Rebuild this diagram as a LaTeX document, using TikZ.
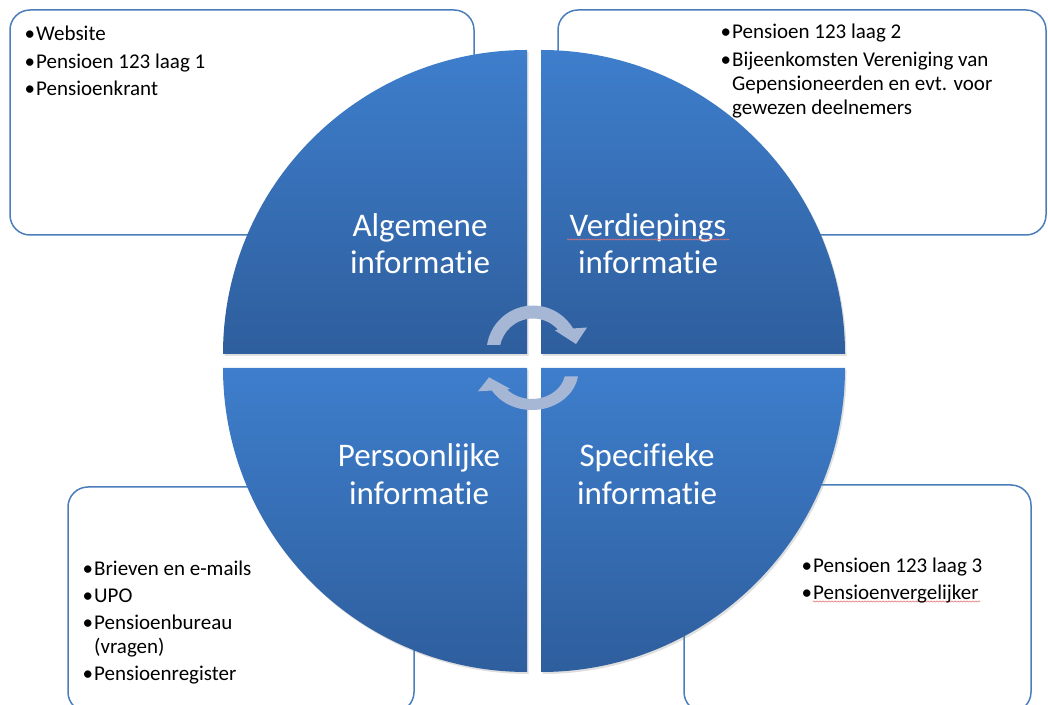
\documentclass[tikz,border=0pt]{standalone}
\usepackage{fontspec}
\setmainfont{Carlito}[Ligatures={NoCommon,NoContextual},Contextuals=NoAlternate]
\usetikzlibrary{shadows,decorations.pathmorphing}
\definecolor{qtop}{HTML}{3E7ECC}
\definecolor{qbot}{HTML}{2E5E9D}
\definecolor{boxline}{HTML}{4A7EBB}
\definecolor{arrowfill}{HTML}{A6B7D6}
\definecolor{spell}{HTML}{E57373}
\newcommand\bul{\makebox[11.5pt][l]{\textbullet}}
\newcommand\ind{\hspace*{11.5pt}}
\tikzset{
  infobox/.style={draw=boxline, line width=1.5pt, rounded corners=20pt, fill=white},
  quadrant/.style={top color=qtop, bottom color=qbot,
    drop shadow={shadow xshift=1.5pt, shadow yshift=-2pt, opacity=0.25}},
  qlabel/.style={text=white, font=\fontsize{33}{37}\selectfont, align=center,
    anchor=base, inner sep=0pt},
  blist/.style={anchor=base west, inner sep=0pt, font=\fontsize{21}{24}\selectfont},
  squiggle/.style={draw=spell, line width=0.6pt, decorate,
    decoration={snake, amplitude=0.6pt, segment length=3pt}},
  cyclearrow/.pic={
    \fill[arrowfill] (167.9:33.5) -- (171.3:46.5)
      arc[start angle=171.3, end angle=30.4, radius=46.5]
      -- (54,24.5) -- (43,8) -- (22,21.5) -- (42.2:33.5)
      arc[start angle=42.2, end angle=167.9, radius=33.5] -- cycle;
  }
}
\begin{document}
\begin{tikzpicture}[x=1pt,y=1pt]
\useasboundingbox (0,0) rectangle (1048,704);
\clip (0,0) rectangle (1048,704);

% background boxes
\draw[infobox] (10,694) rectangle (474,469);
\draw[infobox] (558,694) rectangle (1046,469);
\draw[infobox] (68,217) rectangle (414,-8);
\draw[infobox] (684,219) rectangle (1031,-8);

% quadrants
\coordinate (ctl) at (527,350);
\coordinate (ctr) at (541,350);
\coordinate (cbl) at (527,336);
\coordinate (cbr) at (541,336);
\path[quadrant] (ctl) -- ++(-304,0) arc[start angle=180, end angle=90, radius=304] -- cycle;
\path[quadrant] (ctr) -- ++(0,304) arc[start angle=90, end angle=0, radius=304] -- cycle;
\path[quadrant] (cbl) -- ++(0,-304) arc[start angle=270, end angle=180, radius=304] -- cycle;
\path[quadrant] (cbr) -- ++(304,0) arc[start angle=0, end angle=-90, radius=304] -- cycle;

% quadrant labels (base = baseline of the last line)
\node[qlabel] (lalg) at (420,430) {Algemene\\informatie};
\node[qlabel] (lver) at (648,430) {Verdiepings\\informatie};
\node[qlabel] (lper) at (419,200) {Persoonlijke\\informatie};
\node[qlabel] (lspe) at (647,200) {Specifieke\\informatie};

% spell-check underlines
\draw[squiggle] (567,464.5) -- (729,464.5);
\draw[squiggle] (813,102.5) -- (980,102.5);

% cycle arrows
\pic at (533,352) {cyclearrow};
\pic[rotate=180, yscale=0.85] at (532,333.5) {cyclearrow};

% bullet lists
\node[blist] (ltl) at (24.5,663) {\begin{tabular}[t]{@{}l@{}}
\bul Website\\[3.5pt]
\bul Pensioen 123 laag 1\\[3.5pt]
\bul Pensioenkrant
\end{tabular}};
\node[blist] (ltr) at (720.5,665) {\begin{tabular}[t]{@{}l@{}}
\bul Pensioen 123 laag 2\\[4pt]
\bul Bijeenkomsten Vereniging van\\
\ind Gepensioneerden en evt. voor\\
\ind gewezen deelnemers
\end{tabular}};
\node[blist] (lbl) at (82.5,129) {\begin{tabular}[t]{@{}l@{}}
\bul Brieven en e-mails\\[3pt]
\bul UPO\\[3pt]
\bul Pensioenbureau\\
\ind (vragen)\\[3pt]
\bul Pensioenregister
\end{tabular}};
\node[blist] (lbr) at (801.5,132) {\begin{tabular}[t]{@{}l@{}}
\bul Pensioen 123 laag 3\\[3pt]
\bul Pensioenvergelijker
\end{tabular}};
\end{tikzpicture}
\end{document}
